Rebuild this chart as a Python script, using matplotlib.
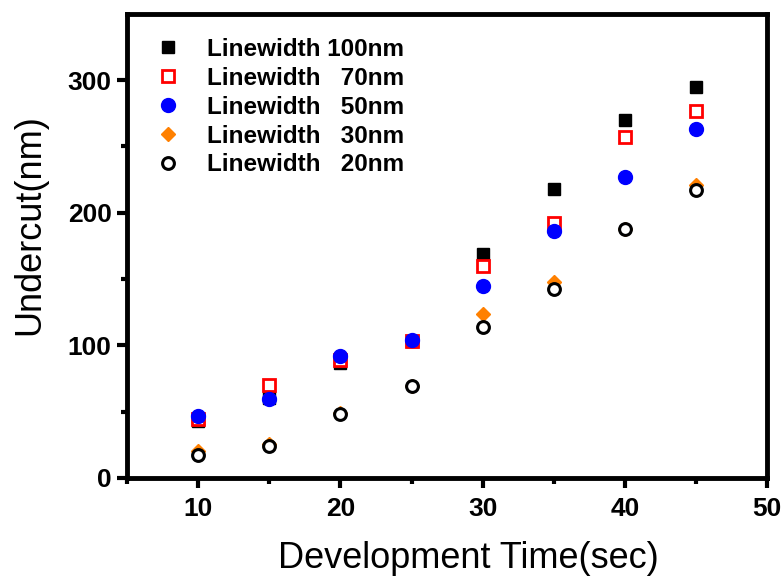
import numpy as np
import matplotlib
matplotlib.use("Agg")
import matplotlib.pyplot as plt

# Development time (sec)
time_sec = [10, 15, 20, 25, 30, 35, 40, 45]

# Undercut (nm) for each linewidth
undercut_100 = [43, 60, 87, 103, 169, 218, 270, 295]
undercut_70 = [44.5, 70, 89, 103, 160, 192, 257, 277]
undercut_50 = [47, 59.5, 92, 104, 145, 186, 227, 263]
undercut_30 = [20, 25.6, 49, 69.5, 123.5, 148, 187.6, 221]
undercut_20 = [17, 24, 48, 69.5, 114, 142.5, 187.6, 217]

labels = ['Linewidth 100nm', 'Linewidth   70nm', 'Linewidth   50nm',
          'Linewidth   30nm', 'Linewidth   20nm']

plt.rcParams['font.family'] = ['Liberation Sans', 'DejaVu Sans']

fig = plt.figure(figsize=(7.83, 5.80), dpi=100)
ax = fig.add_axes([0.162, 0.176, 0.818, 0.8])

ax.plot(time_sec, undercut_100, 's', color='black', ms=8.5, label=labels[0])
ax.plot(time_sec, undercut_70, 's', mfc='white', mec='#ff0000', mew=2, ms=8, label=labels[1])
ax.plot(time_sec, undercut_50, 'o', color='#0000ff', ms=10, label=labels[2])
ax.plot(time_sec, undercut_30, 'D', color='#ff8000', ms=7.5, label=labels[3])
ax.plot(time_sec, undercut_20, 'o', mfc='white', mec='black', mew=2.2, ms=8.5, label=labels[4])

ax.set_xlim(5, 50)
ax.set_ylim(0, 350)
ax.set_xticks([10, 20, 30, 40, 50])
ax.set_xticks([5, 15, 25, 35, 45], minor=True)
ax.set_yticks([0, 100, 200, 300])
ax.set_yticks([50, 150, 250], minor=True)

for s in ax.spines.values():
    s.set_linewidth(3.5)
ax.tick_params(which='both', direction='out', top=False, right=False, width=3)
ax.tick_params(which='major', length=7, labelsize=19, pad=4)
ax.tick_params(axis='x', which='major', pad=7)
ax.tick_params(which='minor', length=4)
for lab in ax.get_xticklabels() + ax.get_yticklabels():
    lab.set_fontweight('bold')

ax.set_xlabel('Development Time(sec)', fontsize=26)
ax.set_ylabel('Undercut(nm)', fontsize=26)
ax.xaxis.set_label_coords(0.533, -0.135)
ax.yaxis.set_label_coords(-0.125, 0.545)

leg = ax.legend(loc='upper left', frameon=False, prop={'weight': 'bold', 'size': 17.5},
                handletextpad=0.85, labelspacing=0.24, borderaxespad=0.4,
                handlelength=1.5, bbox_to_anchor=(0.005, 0.99))

fig.savefig('out.png', dpi=100)
